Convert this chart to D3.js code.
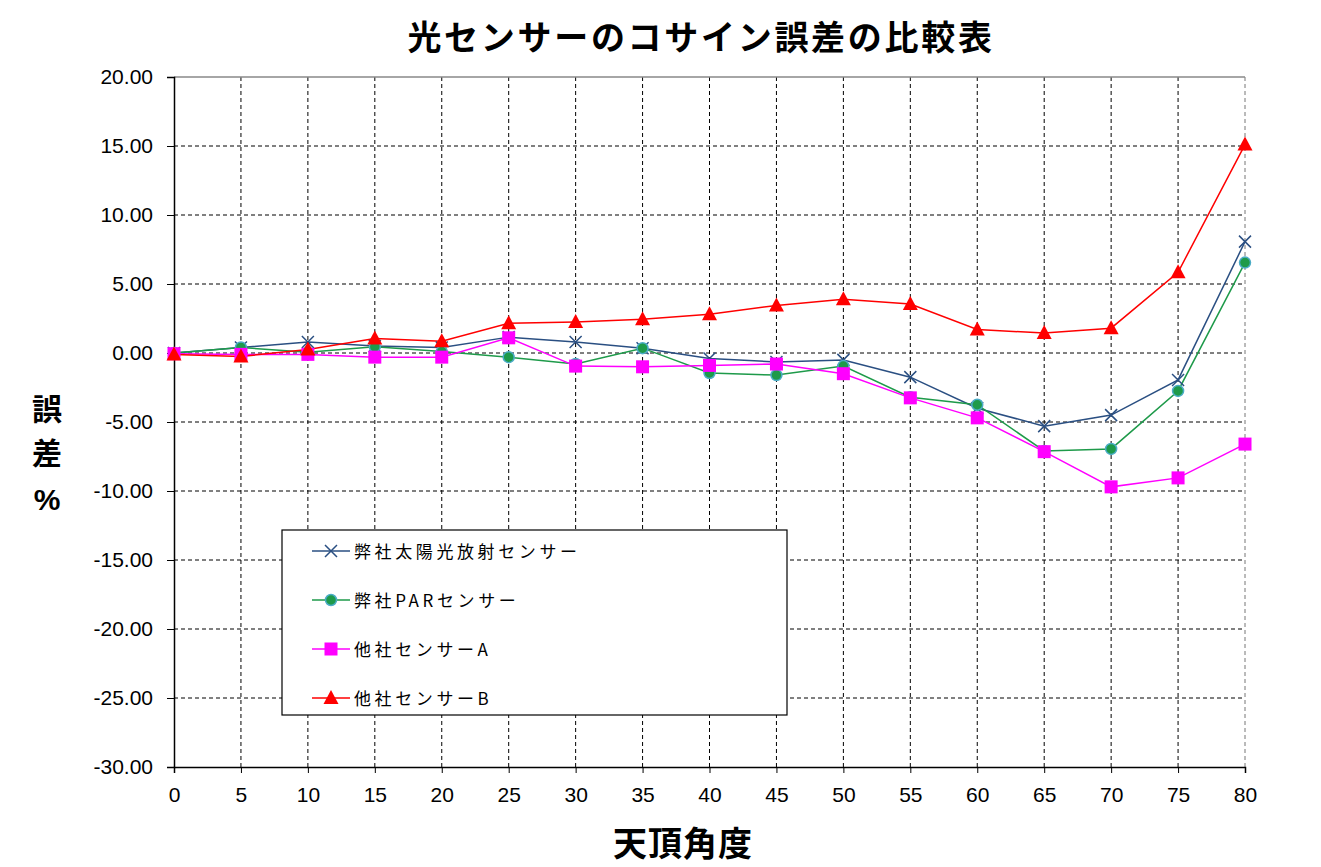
<!DOCTYPE html>
<html><head><meta charset="utf-8">
<script src="https://cdn.jsdelivr.net/npm/d3@7"></script>
<style>body{margin:0;background:#fff}</style>
</head><body>
<svg id="c" width="1321" height="867"></svg>
<script>
const angles = [0,5,10,15,20,25,30,35,40,45,50,55,60,65,70,75,80];
const ourSolar = [0,0.4,0.8,0.5,0.4,1.15,0.8,0.35,-0.4,-0.65,-0.5,-1.75,-4.0,-5.3,-4.5,-1.95,8.07];
const ourPAR = [0,0.4,0.05,0.45,0.1,-0.3,-0.8,0.35,-1.45,-1.6,-0.95,-3.2,-3.75,-7.1,-6.95,-2.75,6.55];
const otherA = [-0.05,-0.1,-0.1,-0.3,-0.3,1.1,-0.95,-1.0,-0.9,-0.8,-1.5,-3.25,-4.7,-7.15,-9.7,-9.05,-6.6];
const otherB = [-0.1,-0.25,0.25,1.05,0.85,2.15,2.25,2.45,2.8,3.45,3.9,3.55,1.7,1.45,1.8,5.85,15.1];
const yTicks = [20,15,10,5,0,-5,-10,-15,-20,-25,-30];
const xTicks = angles;
const seriesNames = ["弊社太陽光放射センサー","弊社PARセンサー","他社センサーA","他社センサーB"];
const title = "光センサーのコサイン誤差の比較表";
const xTitle = "天頂角度";
const yTitleChars = ["誤","差","%"];

const series = [
  {name:seriesNames[0], values:ourSolar, color:"#2A4F82", marker:"x"},
  {name:seriesNames[1], values:ourPAR, color:"#1E9A4A", marker:"circle"},
  {name:seriesNames[2], values:otherA, color:"#FF00FF", marker:"square"},
  {name:seriesNames[3], values:otherB, color:"#FF0000", marker:"triangle"}
];

const svg = d3.select("#c");
const L=174, R=1245, T=77, B=767;
const x = d3.scaleLinear().domain([0,80]).range([L,R]);
const y = d3.scaleLinear().domain([-30,20]).range([B,T]);
const jp = "'Noto Sans CJK JP', 'Noto Sans', sans-serif";
const sans = "'Liberation Sans', Arial, sans-serif";

// gridlines
const g = svg.append("g");
g.selectAll(".hg").data(yTicks.filter(v=>v!==-30 && v!==20)).enter().append("line")
  .attr("x1",L).attr("x2",R).attr("y1",d=>y(d)).attr("y2",d=>y(d))
  .attr("stroke","#000").attr("stroke-width",1).attr("stroke-dasharray","4,3");
g.selectAll(".vg").data(xTicks.filter(v=>v!==0)).enter().append("line")
  .attr("x1",d=>x(d)).attr("x2",d=>x(d)).attr("y1",T).attr("y2",B)
  .attr("stroke",d=>d===80?"#777":"#000").attr("stroke-width",1).attr("stroke-dasharray","4,3");
// top border
g.append("line").attr("x1",L).attr("x2",R).attr("y1",T).attr("y2",T).attr("stroke","#888").attr("stroke-width",1.5);

// axes
const fmt = d => d3.format(".2f")(d).replace("\u2212","-");
const yAxis = d3.axisLeft(y).tickValues(yTicks).tickFormat(fmt).tickSize(7).tickPadding(14);
const ya = svg.append("g").attr("transform",`translate(${L},0)`).call(yAxis);
ya.select(".domain").attr("stroke","#000").attr("stroke-width",1.5);
ya.selectAll("text").attr("font-family",sans).attr("font-size",21).attr("fill","#000");
const xAxis = d3.axisBottom(x).tickValues(xTicks).tickSize(6).tickPadding(14);
const xa = svg.append("g").attr("transform",`translate(0,${B})`).call(xAxis);
xa.select(".domain").attr("stroke","#000").attr("stroke-width",1.5);
xa.selectAll("text").attr("font-family",sans).attr("font-size",21).attr("fill","#000");

// lines
const line = d3.line().x((d,i)=>x(angles[i])).y(d=>y(d));
function drawMarker(sel, type, color){
  if(type==="x"){
    const s=6;
    sel.append("path").attr("d",`M${-s},${-s}L${s},${s}M${-s},${s}L${s},${-s}`).attr("stroke",color).attr("stroke-width",1.5).attr("fill","none");
  } else if(type==="circle"){
    sel.append("circle").attr("r",5.5).attr("fill",color).attr("stroke","#4BACC6").attr("stroke-width",1.5);
  } else if(type==="square"){
    sel.append("rect").attr("x",-6.5).attr("y",-6.5).attr("width",13).attr("height",13).attr("fill",color);
  } else {
    sel.append("path").attr("d","M0,-8L7.5,6L-7.5,6Z").attr("fill",color);
  }
}
series.forEach(s=>{
  svg.append("path").datum(s.values).attr("d",line).attr("fill","none").attr("stroke",s.color).attr("stroke-width",1.5);
});
series.forEach(s=>{
  s.values.forEach((v,i)=>{
    const m = svg.append("g").attr("transform",`translate(${x(angles[i])},${y(v)})`);
    drawMarker(m, s.marker, s.color);
  });
});

// legend
const lg = svg.append("g");
lg.append("rect").attr("x",282).attr("y",530).attr("width",505).attr("height",185).attr("fill","#fff").attr("stroke","#000").attr("stroke-width",1.2);
series.forEach((s,i)=>{
  const yy = 551 + i*49;
  lg.append("line").attr("x1",312).attr("x2",350).attr("y1",yy).attr("y2",yy).attr("stroke",s.color).attr("stroke-width",1.5);
  drawMarker(lg.append("g").attr("transform",`translate(331,${yy})`), s.marker, s.color);
  lg.append("text").attr("x",354).attr("y",yy+7).attr("font-family",jp).attr("font-size",17)
    .attr("letter-spacing",3.6).attr("fill","#000").text(s.name);
});

// titles
svg.append("text").attr("x",701).attr("y",50).attr("text-anchor","middle").attr("font-family",jp).attr("font-weight","bold")
  .attr("font-size",34).attr("letter-spacing",2.7).text(title);
svg.append("text").attr("x",683).attr("y",856).attr("text-anchor","middle").attr("font-family",jp).attr("font-weight","bold")
  .attr("font-size",34).attr("letter-spacing",1).text(xTitle);
yTitleChars.forEach((c,i)=>{
  svg.append("text").attr("x",47).attr("y",[420,464,510][i]).attr("text-anchor","middle")
    .attr("font-family", c==="%"? sans : jp).attr("font-weight","bold").attr("font-size",30).text(c);
});
</script>
</body></html>
